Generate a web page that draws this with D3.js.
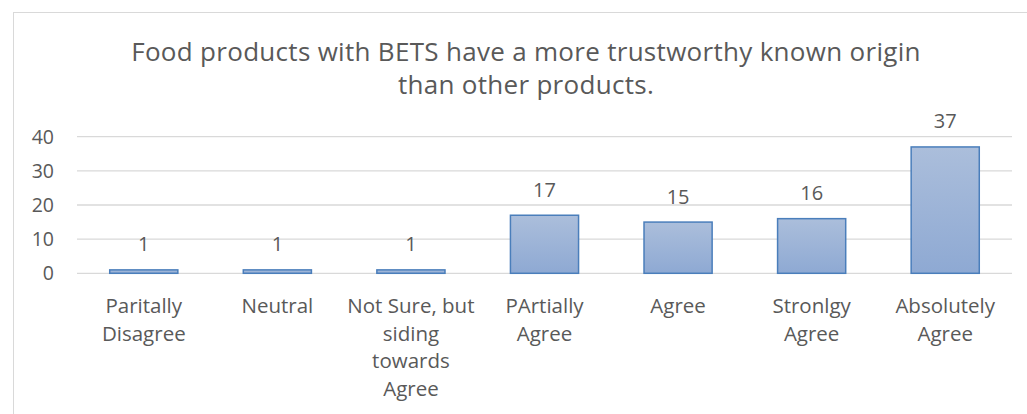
<!DOCTYPE html>
<html>
<head>
<meta charset="utf-8">
<script src="https://cdn.jsdelivr.net/npm/d3@7"></script>
<style>
  body { margin: 0; background: #fff; }
  text { font-family: "Open Sans", Calibri, sans-serif; fill: #595959; }
</style>
</head>
<body>
<div class="chart"></div>
<script>
// chart values
let categories = [
  ["Paritally", "Disagree"],
  ["Neutral"],
  ["Not Sure, but", "siding", "towards", "Agree"],
  ["PArtially", "Agree"],
  ["Agree"],
  ["Stronlgy", "Agree"],
  ["Absolutely", "Agree"]
];
let counts = [1, 1, 1, 17, 15, 16, 37];
let yTicks = [0, 10, 20, 30, 40];
let titleLines = ["Food products with BETS have a more trustworthy known origin", "than other products."];

let W = 1027, H = 414;
let plotLeft = 77, plotRight = 1012, plotTop = 136.7, plotBottom = 273.3;

let svg = d3.select(".chart")
  .append("svg")
  .attr("width", W)
  .attr("height", H);

// gradient for the bars
let grad = svg.append("defs").append("linearGradient")
  .attr("id", "barGrad")
  .attr("x1", 0).attr("y1", 0).attr("x2", 0).attr("y2", 1);
grad.append("stop").attr("offset", "0%").attr("stop-color", "#abbedb");
grad.append("stop").attr("offset", "100%").attr("stop-color", "#8ea9d3");

// chart border
svg.append("rect")
  .attr("x", 13.5).attr("y", 12.5)
  .attr("width", W).attr("height", H)
  .attr("fill", "none")
  .attr("stroke", "#d9d9d9");

let x = d3.scaleBand()
  .domain(d3.range(categories.length))
  .range([plotLeft, plotRight])
  .paddingInner(0.49)
  .paddingOuter(0.245);

let y = d3.scaleLinear()
  .domain([0, 40])
  .range([plotBottom, plotTop]);

// gridlines
svg.selectAll(".grid")
  .data(yTicks)
  .enter().append("line")
  .attr("x1", plotLeft).attr("x2", plotRight)
  .attr("y1", d => y(d)).attr("y2", d => y(d))
  .attr("stroke", "#d9d9d9")
  .attr("stroke-width", 1.3);

// y tick labels
svg.selectAll(".ytick")
  .data(yTicks)
  .enter().append("text")
  .attr("x", 54)
  .attr("y", d => y(d))
  .attr("dy", "0.36em")
  .attr("text-anchor", "end")
  .attr("font-size", 19.5)
  .text(d => d);

// bars
svg.selectAll(".bar")
  .data(counts)
  .enter().append("rect")
  .attr("x", (d, i) => x(i))
  .attr("y", d => y(d))
  .attr("width", x.bandwidth())
  .attr("height", d => y(0) - y(d))
  .attr("fill", "url(#barGrad)")
  .attr("stroke", "#4a7ebb")
  .attr("stroke-width", 1.5);

// value labels
svg.selectAll(".val")
  .data(counts)
  .enter().append("text")
  .attr("x", (d, i) => x(i) + x.bandwidth() / 2)
  .attr("y", d => y(d) - 18.5)
  .attr("text-anchor", "middle")
  .attr("font-size", 20)
  .text(d => d);

// category labels
let cat = svg.selectAll(".cat")
  .data(categories)
  .enter().append("text")
  .attr("text-anchor", "middle")
  .attr("font-size", 20.5);
cat.selectAll("tspan")
  .data((d, i) => d.map(s => ({ s: s, i: i })))
  .enter().append("tspan")
  .attr("x", d => x(d.i) + x.bandwidth() / 2)
  .attr("y", (d, j) => 313 + j * 27.7)
  .text(d => d.s);

// title
svg.selectAll(".title")
  .data(titleLines)
  .enter().append("text")
  .attr("x", 526)
  .attr("y", (d, i) => 61 + i * 33)
  .attr("text-anchor", "middle")
  .attr("font-size", 26)
  .style("letter-spacing", "0.3px")
  .text(d => d);
</script>
</body>
</html>
